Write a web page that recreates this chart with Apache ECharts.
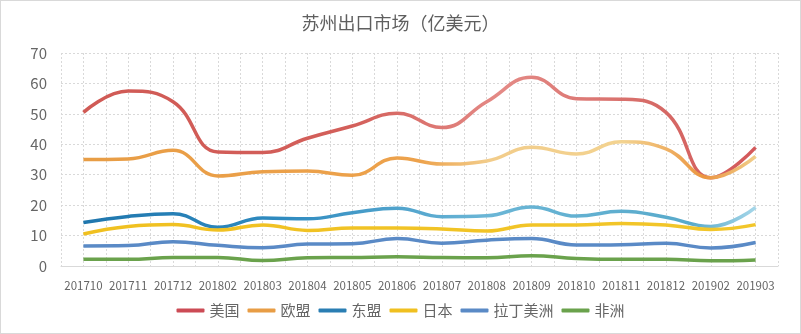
<!DOCTYPE html>
<html><head><meta charset="utf-8">
<script src="https://cdn.jsdelivr.net/npm/echarts@6/dist/echarts.min.js"></script>
<style>html,body{margin:0;padding:0;background:#fff;}#c{width:801px;height:334px;box-sizing:border-box;border:1px solid #d9d9d9;}</style>
</head><body><div id="c"></div>
<script>
const categories = ['201710','201711','201712','201802','201803','201804','201805','201806','201807','201808','201809','201810','201811','201812','201902','201903'];
const usa   = [50.5,57.5,54,37.5,37.3,42,46,50.2,45.5,54,62,55,54.8,50.5,29,39];
const eu    = [35,35.2,38,29.6,31,31.2,29.8,35.5,33.5,34.5,39,36.8,40.8,38.5,29,36];
const asean = [14.3,16.3,17.2,12.7,15.8,15.5,17.5,19,16.2,16.5,19.4,16.4,18,16,13,19.3];
const japan = [10.5,13,13.6,11.8,13.5,11.7,12.5,12.5,12.2,11.5,13.5,13.5,14,13.5,12,13.6];
const latam = [6.6,6.7,8,6.8,6,7.2,7.3,9,7.5,8.5,9,6.9,7,7.5,5.9,7.7];
const africa= [2.2,2.2,2.8,2.8,1.8,2.7,2.8,3,2.8,2.7,3.4,2.5,2.2,2.2,1.7,2];
const yTicks = [0,10,20,30,40,50,60,70];

function grad(stops){return {type:'linear',x:0,y:0,x2:1,y2:0,colorStops:stops.map(s=>({offset:s[0],color:s[1]}))};}
const chart = echarts.init(document.getElementById('c'));
const font = '"Microsoft YaHei","Noto Sans CJK SC",sans-serif';
function ser(name,data,color,legendColor){
  return {name,type:'line',data,smooth:0.45,showSymbol:false,symbol:'none',xAxisIndex:0,
    lineStyle:{width:3.5,color:color},itemStyle:{color:legendColor},emphasis:{disabled:true}};
}
chart.setOption({
  animation:false,
  textStyle:{fontFamily:font},
  title:{text:'苏州出口市场（亿美元）',left:'center',top:8,textStyle:{fontSize:18,fontWeight:'normal',color:'#5f5f5f',fontFamily:font}},
  legend:{bottom:10,left:'center',itemWidth:28,itemHeight:4,itemGap:8,icon:'roundRect',
    textStyle:{fontSize:15,color:'#666666',fontFamily:font},
    data:['美国','欧盟','东盟','日本','拉丁美洲','非洲']},
  grid:{left:60,right:22,top:52,bottom:67},
  xAxis:[{type:'category',data:categories,boundaryGap:true,
    axisLine:{lineStyle:{color:'#d9d9d9'}},axisTick:{show:false},
    axisLabel:{interval:0,color:'#666666',fontSize:11.5,margin:14,fontFamily:font},
    splitLine:{show:false}},
   {type:'value',min:0,max:32,interval:1,show:true,position:'top',
    axisLine:{show:false},axisTick:{show:false},axisLabel:{show:false},
    splitLine:{show:true,lineStyle:{color:'#d9d9d9',type:[2,2],width:1}}}],
  yAxis:{type:'value',min:0,max:70,interval:10,
    axisLine:{show:false},axisTick:{show:false},
    axisLabel:{color:'#666666',fontSize:15,margin:14,fontFamily:font},
    splitLine:{lineStyle:{color:'#d9d9d9',type:[2,2]}}},
  series:[
    ser('美国',usa,grad([[0,'#d05a55'],[0.4,'#d35f5a'],[0.62,'#e48a86'],[0.85,'#d66a66'],[1,'#d3585a']]),'#cc4b55'),
    ser('欧盟',eu,grad([[0,'#e89d45'],[0.5,'#eda24c'],[0.6,'#f2cc8a'],[0.8,'#f3d390'],[0.92,'#eb9540'],[1,'#f1d18e']]),'#e89d45'),
    ser('东盟',asean,grad([[0,'#1f76ad'],[0.3,'#2f8bc0'],[0.6,'#6bb6d6'],[0.9,'#58aacb'],[1,'#a8d8ea']]),'#2a7eb3'),
    ser('日本',japan,grad([[0,'#f0c020'],[1,'#f2c62a']]),'#f0c020'),
    ser('拉丁美洲',latam,'#5a8ac6','#5a8ac6'),
    ser('非洲',africa,'#6aa24c','#6aa24c')
  ]
});
</script></body></html>
